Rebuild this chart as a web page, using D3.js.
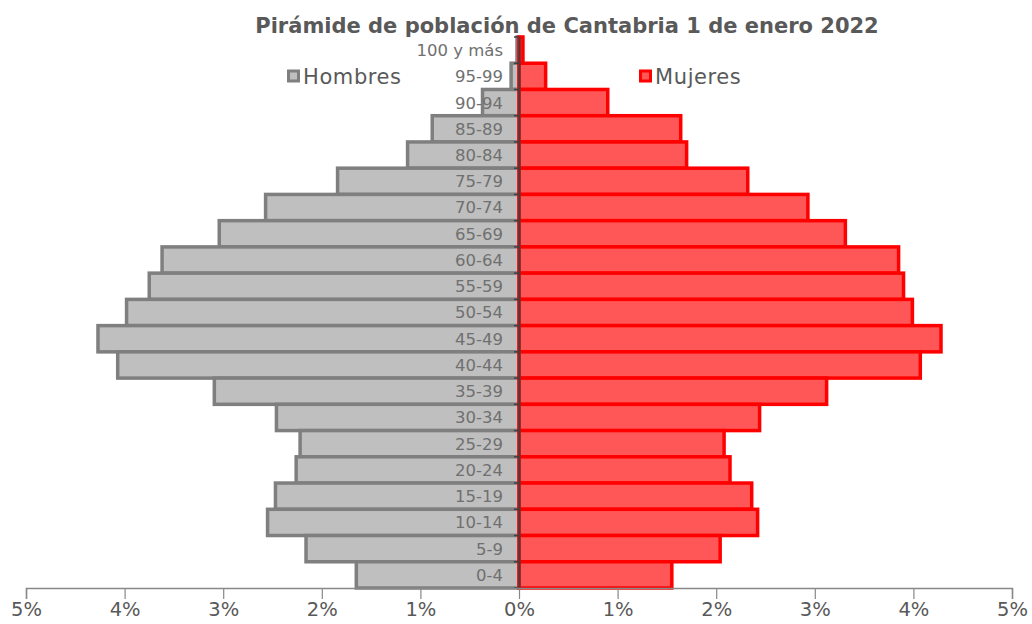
<!DOCTYPE html>
<html>
<head>
<meta charset="utf-8">
<script src="https://cdn.jsdelivr.net/npm/d3@7"></script>
<style>
  html, body { margin: 0; padding: 0; background: #fff; }
  svg { display: block; }
</style>
</head>
<body>
<svg id="chart" width="1032" height="624"></svg>
<script>
const title = "Pirámide de población de Cantabria 1 de enero 2022";
const categories = ["100 y más","95-99","90-94","85-89","80-84","75-79","70-74","65-69","60-64","55-59","50-54","45-49","40-44","35-39","30-34","25-29","20-24","15-19","10-14","5-9","0-4"];
const hombres = [0.02,0.08,0.37,0.88,1.13,1.84,2.57,3.04,3.62,3.75,3.98,4.27,4.07,3.09,2.46,2.22,2.26,2.47,2.55,2.16,1.65];
const mujeres = [0.04,0.27,0.90,1.64,1.70,2.32,2.93,3.31,3.85,3.90,3.99,4.28,4.07,3.12,2.44,2.08,2.14,2.36,2.42,2.04,1.55];
const xTicks = [-5,-4,-3,-2,-1,0,1,2,3,4,5];
const seriesNames = ["Hombres","Mujeres"];

const svg = d3.select("#chart");
const font = "'DejaVu Sans', Verdana, sans-serif";

const x = d3.scaleLinear().domain([-5, 5]).range([26, 1012]);
const y = d3.scaleBand().domain(categories).range([37, 588]).padding(0);

// Title
svg.append("text")
  .attr("x", 567).attr("y", 33)
  .attr("text-anchor", "middle")
  .attr("font-family", font).attr("font-weight", "bold")
  .attr("font-size", 21).attr("fill", "#595959")
  .text(title);

// Bars
const g = svg.append("g");
g.selectAll("rect.h").data(categories).join("rect")
  .attr("class", "h")
  .attr("x", (d, i) => x(-hombres[i]))
  .attr("y", d => y(d))
  .attr("width", (d, i) => x(0) - x(-hombres[i]))
  .attr("height", y.bandwidth())
  .attr("fill", "#BFBFBF").attr("stroke", "#7F7F7F").attr("stroke-width", 3.5);

g.selectAll("rect.m").data(categories).join("rect")
  .attr("class", "m")
  .attr("x", x(0))
  .attr("y", d => y(d))
  .attr("width", (d, i) => x(mujeres[i]) - x(0))
  .attr("height", y.bandwidth())
  .attr("fill", "#FF5757").attr("stroke", "#FF0000").attr("stroke-width", 3.5);

// Center vertical axis
const yAxis = d3.axisLeft(y).tickSize(0).tickFormat("");
const ya = svg.append("g").attr("transform", `translate(${x(0)},0)`).call(yAxis);
ya.select(".domain").attr("stroke", "#404040").attr("stroke-width", 2);
const bounds = categories.map(c => y(c)).concat([y(categories[categories.length-1]) + y.bandwidth()]);
svg.append("g").selectAll("line").data(bounds).join("line")
  .attr("x1", x(0) - 5).attr("x2", x(0))
  .attr("y1", d => d).attr("y2", d => d)
  .attr("stroke", "#404040").attr("stroke-width", 1.5);

// Category labels
svg.append("g").selectAll("text").data(categories).join("text")
  .attr("x", x(0) - 16)
  .attr("y", d => y(d) + y.bandwidth() / 2)
  .attr("dy", "0.36em")
  .attr("text-anchor", "end")
  .attr("font-family", font).attr("font-size", 16.5)
  .attr("fill", "#707070")
  .text(d => d);

// Bottom axis
const xAxis = d3.axisBottom(x).tickValues(xTicks).tickSize(11).tickPadding(3)
  .tickFormat(d => Math.abs(d) + "%");
const xa = svg.append("g").attr("transform", "translate(0,588)").call(xAxis);
xa.select(".domain").attr("stroke", "#888").attr("stroke-width", 1.5);
xa.selectAll(".tick line").attr("stroke", "#888").attr("stroke-width", 1.2);
xa.selectAll(".tick text").attr("font-family", font).attr("font-size", 19.5).attr("fill", "#595959");

// Legend
const legend = [
  {name: seriesNames[0], fill: "#BFBFBF", stroke: "#7F7F7F", x: 287},
  {name: seriesNames[1], fill: "#FF5757", stroke: "#FF0000", x: 639}
];
const lg = svg.append("g").selectAll("g").data(legend).join("g")
  .attr("transform", d => `translate(${d.x},71)`);
lg.append("rect").attr("x", 1.5).attr("y", 0).attr("width", 10).attr("height", 10)
  .attr("fill", d => d.fill).attr("stroke", d => d.stroke).attr("stroke-width", 3);
lg.append("text").attr("x", 16).attr("y", 5).attr("dy", "0.36em")
  .attr("font-family", font).attr("font-size", 21).attr("letter-spacing", 0.6)
  .attr("fill", "#595959")
  .text(d => d.name);
</script>
</body>
</html>
